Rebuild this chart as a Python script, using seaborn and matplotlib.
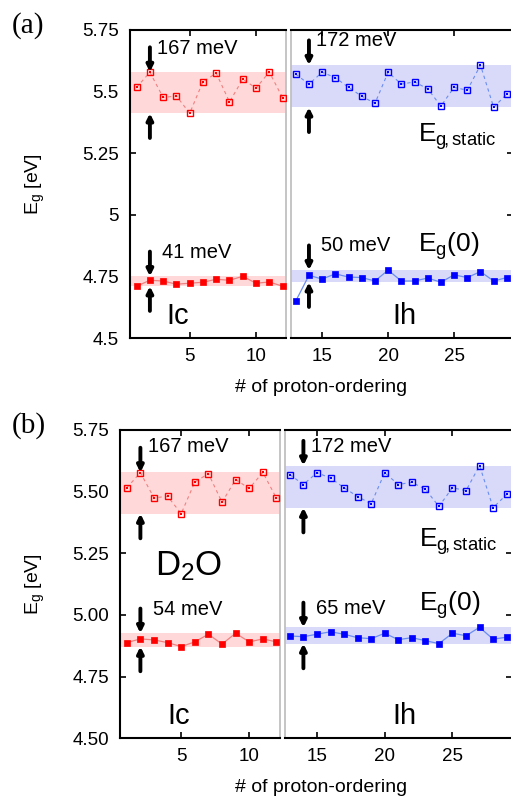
import matplotlib
matplotlib.use("Agg")
import matplotlib.pyplot as plt
import seaborn as sns

# ---------------- data ----------------
x_ic = [1, 2, 3, 4, 5, 6, 7, 8, 9, 10, 11, 12]
x_ih = [13, 14, 15, 16, 17, 18, 19, 20, 21, 22, 23, 24, 25, 26, 27, 28, 29]

static_ic = [5.516, 5.577, 5.475, 5.481, 5.411, 5.539, 5.573, 5.457, 5.549, 5.513, 5.578, 5.474]
static_ih = [5.569, 5.529, 5.577, 5.555, 5.516, 5.480, 5.451, 5.577, 5.529, 5.538, 5.510,
             5.440, 5.516, 5.504, 5.606, 5.435, 5.489]

eg0_ic_h2o = [4.711, 4.735, 4.732, 4.719, 4.723, 4.727, 4.739, 4.735, 4.751, 4.723, 4.728, 4.711]
eg0_ih_h2o = [4.651, 4.755, 4.740, 4.761, 4.748, 4.746, 4.732, 4.776, 4.732, 4.732, 4.744,
              4.727, 4.757, 4.746, 4.770, 4.732, 4.746]

eg0_ic_d2o = [4.888, 4.903, 4.899, 4.888, 4.872, 4.891, 4.922, 4.882, 4.926, 4.891, 4.903, 4.891]
eg0_ih_d2o = [4.915, 4.912, 4.922, 4.932, 4.922, 4.908, 4.904, 4.926, 4.900, 4.908, 4.896,
              4.884, 4.926, 4.916, 4.950, 4.902, 4.910]

yticks = [4.5, 4.75, 5.0, 5.25, 5.5, 5.75]
yticklabels_a = ["4.5", "4.75", "5", "5.25", "5.5", "5.75"]
yticklabels_b = ["4.50", "4.75", "5.00", "5.25", "5.50", "5.75"]
xticks_ic = [5, 10]
xticks_ih = [15, 20, 25]
spread_a = ["167 meV", "172 meV", "41 meV", "50 meV"]
spread_b = ["167 meV", "172 meV", "54 meV", "65 meV"]

# ---------------- style ----------------
sns.set_style("ticks")
plt.rcParams["font.family"] = ["Liberation Sans", "DejaVu Sans"]
plt.rcParams["mathtext.fontset"] = "custom"
plt.rcParams["mathtext.rm"] = "Liberation Sans"
plt.rcParams["mathtext.it"] = "Liberation Sans:italic"
plt.rcParams["mathtext.bf"] = "Liberation Sans:bold"
plt.rcParams.update({"axes.edgecolor": "black", "text.color": "black",
                     "xtick.color": "black", "ytick.color": "black",
                     "axes.labelcolor": "black"})

RED, RED_LINE, RED_BAND = "#ff0000", "#f08080", "#ffd9d9"
BLUE, BLUE_LINE, BLUE_BAND = "#0000ff", "#6a8ef0", "#d9d9fa"
GRAY = "#c0c0c0"

fig = plt.figure(figsize=(5.11, 8.0), dpi=100)

ax_a_l = fig.add_axes([0.2544, 0.5771, 0.3053, 0.386])
ax_a_r = fig.add_axes([0.5695, 0.5771, 0.4335, 0.386])
ax_b_l = fig.add_axes([0.2348, 0.0771, 0.3131, 0.3854])
ax_b_r = fig.add_axes([0.5577, 0.0771, 0.4452, 0.3854])


def draw_static(ax, x, y, mcolor, lcolor):
    sns.lineplot(x=x, y=y, ax=ax, color=lcolor, lw=0.8, linestyle=(0, (3, 3)),
                 marker="s", ms=4.3, mfc="none", mec=mcolor, mew=1.0, zorder=3)
    sns.scatterplot(x=x, y=y, ax=ax, marker="s", s=1.5, color=mcolor,
                    linewidth=0, zorder=4)


def draw_eg0(ax, x, y, mcolor, lcolor):
    sns.lineplot(x=x, y=y, ax=ax, color=lcolor, lw=0.9,
                 marker="s", ms=4.2, mfc=mcolor, mec=mcolor, mew=0.5, zorder=3)


def band(ax, vals, xa, color):
    lo, hi = min(vals), max(vals)
    ax.axhspan(lo, hi, color=color, lw=0, zorder=1)
    L = 0.1
    props = dict(arrowstyle="-|>", color="k", lw=2.8, shrinkA=0, shrinkB=0,
                 mutation_scale=9)
    ax.annotate("", xy=(xa, hi), xytext=(xa, hi + L), arrowprops=props, zorder=6)
    ax.annotate("", xy=(xa, lo), xytext=(xa, lo - L), arrowprops=props, zorder=6)


def setup(ax_l, ax_r, ylabels):
    for ax in (ax_l, ax_r):
        ax.set_ylim(4.5, 5.75)
        ax.set_yticks(yticks)
        ax.set_xlabel("")
        ax.set_ylabel("")
        ax.tick_params(direction="in", length=4, width=1.2, labelsize=13.5)
        ax.tick_params(axis="y", pad=8)
        ax.tick_params(axis="x", pad=7, top=True, bottom=True)
        for s in ax.spines.values():
            s.set_visible(True)
            s.set_linewidth(1.5)
            s.set_color("black")
    ax_l.set_xlim(0.5, 12.26)
    ax_r.set_xlim(12.64, 29.43)
    ax_l.set_xticks(xticks_ic)
    ax_r.set_xticks(xticks_ih)
    ax_l.set_yticklabels(ylabels)
    ax_l.tick_params(axis="y", left=True, right=False, labelleft=True)
    ax_r.tick_params(axis="y", left=False, right=True, labelleft=False, labelright=False)
    ax_l.spines["right"].set_color(GRAY)
    ax_l.spines["right"].set_linewidth(1.3)
    ax_r.spines["left"].set_color(GRAY)
    ax_r.spines["left"].set_linewidth(1.3)


STATIC_LABEL = r"E$_\mathregular{g\!,static}$"
EG0_LABEL = r"E$_\mathregular{g}$(0)"

# ---------------- panel (a) ----------------
band(ax_a_l, static_ic, x_ic[1], RED_BAND)
band(ax_a_l, eg0_ic_h2o, x_ic[1], RED_BAND)
band(ax_a_r, static_ih, x_ih[1], BLUE_BAND)
band(ax_a_r, eg0_ih_h2o[1:], x_ih[1], BLUE_BAND)
draw_static(ax_a_l, x_ic, static_ic, RED, RED_LINE)
draw_eg0(ax_a_l, x_ic, eg0_ic_h2o, RED, RED_LINE)
draw_static(ax_a_r, x_ih, static_ih, BLUE, BLUE_LINE)
draw_eg0(ax_a_r, x_ih, eg0_ih_h2o, BLUE, BLUE_LINE)
setup(ax_a_l, ax_a_r, yticklabels_a)

fs_mev = 14.5
ax_a_l.text(2.53, 5.673, spread_a[0], fontsize=fs_mev, ha="left", va="center")
ax_a_r.text(14.54, 5.705, spread_a[1], fontsize=fs_mev, ha="left", va="center")
ax_a_l.text(2.93, 4.849, spread_a[2], fontsize=fs_mev, ha="left", va="center")
ax_a_r.text(14.92, 4.876, spread_a[3], fontsize=fs_mev, ha="left", va="center")
ax_a_r.text(22.29, 5.295, STATIC_LABEL, fontsize=19, ha="left", va="baseline")
ax_a_r.text(22.29, 4.849, EG0_LABEL, fontsize=19, ha="left", va="baseline")
ax_a_l.text(3.26, 4.557, "Ic", fontsize=21, ha="left", va="baseline")
ax_a_r.text(20.35, 4.557, "Ih", fontsize=21, ha="left", va="baseline")

# ---------------- panel (b) ----------------
band(ax_b_l, static_ic, x_ic[1], RED_BAND)
band(ax_b_l, eg0_ic_d2o, x_ic[1], RED_BAND)
band(ax_b_r, static_ih, x_ih[1], BLUE_BAND)
band(ax_b_r, eg0_ih_d2o, x_ih[1], BLUE_BAND)
draw_static(ax_b_l, x_ic, static_ic, RED, RED_LINE)
draw_eg0(ax_b_l, x_ic, eg0_ic_d2o, RED, RED_LINE)
draw_static(ax_b_r, x_ih, static_ih, BLUE, BLUE_LINE)
draw_eg0(ax_b_r, x_ih, eg0_ih_d2o, BLUE, BLUE_LINE)
setup(ax_b_l, ax_b_r, yticklabels_b)

ax_b_l.text(2.54, 5.683, spread_b[0], fontsize=fs_mev, ha="left", va="center")
ax_b_r.text(14.55, 5.683, spread_b[1], fontsize=fs_mev, ha="left", va="center")
ax_b_l.text(2.91, 5.023, spread_b[2], fontsize=fs_mev, ha="left", va="center")
ax_b_r.text(14.92, 5.026, spread_b[3], fontsize=fs_mev, ha="left", va="center")
ax_b_l.text(3.08, 5.162, r"D$_\mathregular{2}$O", fontsize=25, ha="left", va="baseline")
ax_b_r.text(22.54, 5.275, STATIC_LABEL, fontsize=19, ha="left", va="baseline")
ax_b_r.text(22.54, 5.016, EG0_LABEL, fontsize=19, ha="left", va="baseline")
ax_b_l.text(4.01, 4.557, "Ic", fontsize=21, ha="left", va="baseline")
ax_b_r.text(20.57, 4.557, "Ih", fontsize=21, ha="left", va="baseline")

# ---------------- figure labels ----------------
serif = ["Liberation Serif", "DejaVu Serif"]
fig.text(12 / 511, 1 - 12 / 800, "(a)", family=serif, fontsize=21, ha="left", va="top")
fig.text(12 / 511, 1 - 412 / 800, "(b)", family=serif, fontsize=21, ha="left", va="top")

fig.text(35 / 511, 0.5771 + 0.386 / 2, r"E$_\mathregular{g}$ [eV]", rotation=90,
         fontsize=14, ha="center", va="center")
fig.text(35 / 511, 0.0771 + 0.3854 / 2, r"E$_\mathregular{g}$ [eV]", rotation=90,
         fontsize=14, ha="center", va="center")
fig.text(321 / 511, 1 - 388 / 800, "# of proton-ordering", fontsize=14,
         ha="center", va="center")
fig.text(321 / 511, 1 - 787 / 800, "# of proton-ordering", fontsize=14,
         ha="center", va="center")

fig.savefig("out.png", dpi=100)
